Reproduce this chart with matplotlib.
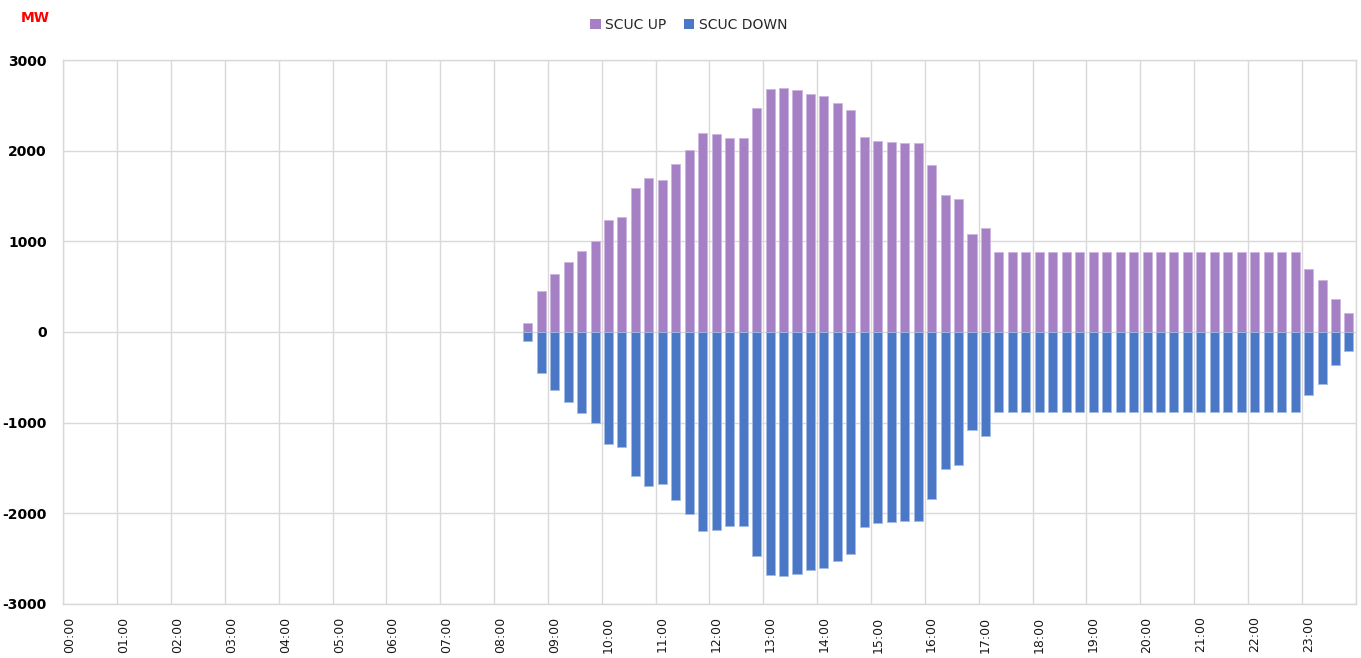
import matplotlib
matplotlib.use("Agg")
import matplotlib.pyplot as plt
from matplotlib.patches import Patch

# 15-minute slots over one day
times = [f"{h:02d}:{m:02d}" for h in range(24) for m in (0, 15, 30, 45)]

scuc_up = [
    0, 0, 0, 0, 0, 0, 0, 0, 0, 0, 0, 0, 0, 0, 0, 0,
    0, 0, 0, 0, 0, 0, 0, 0, 0, 0, 0, 0, 0, 0, 0, 0,
    0, 0, 100, 455, 640, 772, 893, 1005, 1230, 1267, 1590, 1696, 1677, 1853, 2004, 2195,
    2180, 2136, 2143, 2473, 2680, 2686, 2664, 2626, 2598, 2527, 2451, 2151, 2110, 2096, 2088, 2088,
    1843, 1510, 1468, 1077, 1145, 885, 885, 885, 885, 885, 885, 885, 885, 885, 885, 885,
    885, 885, 885, 885, 885, 885, 885, 885, 885, 885, 885, 885, 697, 572, 365, 208,
]
scuc_down = [
    0, 0, 0, 0, 0, 0, 0, 0, 0, 0, 0, 0, 0, 0, 0, 0,
    0, 0, 0, 0, 0, 0, 0, 0, 0, 0, 0, 0, 0, 0, 0, 0,
    0, 0, -100, -455, -640, -772, -893, -1005, -1230, -1267, -1590, -1696, -1677, -1853, -2004, -2195,
    -2180, -2136, -2143, -2473, -2680, -2686, -2664, -2626, -2598, -2527, -2451, -2151, -2110, -2096, -2088, -2088,
    -1843, -1510, -1468, -1077, -1145, -885, -885, -885, -885, -885, -885, -885, -885, -885, -885, -885,
    -885, -885, -885, -885, -885, -885, -885, -885, -885, -885, -885, -885, -697, -572, -365, -208,
]
y_ticks = [-3000, -2000, -1000, 0, 1000, 2000, 3000]

UP_COLOR = '#A680C4'
DOWN_COLOR = '#4A78C6'
GRID = '#D9D9D9'

fig = plt.figure(figsize=(13.61, 6.58), dpi=100)
ax = fig.add_axes([0.0465, 0.0821, 0.9496, 0.8267])

x = list(range(len(times)))
# no outline on empty slots, otherwise the edges draw a dashed line at zero
ax.bar(x, scuc_up, width=0.67, color=UP_COLOR, edgecolor='#CDB6E0',
       linewidth=[0.6 if v else 0 for v in scuc_up], zorder=3)
ax.bar(x, scuc_down, width=0.67, color=DOWN_COLOR, edgecolor='#A3BAE4',
       linewidth=[0.6 if v else 0 for v in scuc_down], zorder=3)

ax.set_xlim(-0.5, len(times) - 0.5)
ax.set_ylim(-3000, 3000)

# hour labels on category centres, grid on category boundaries
ax.set_xticks(x[::4])
ax.set_xticklabels(times[::4], rotation=90, fontsize=9, color='#1a1a1a')
ax.set_xticks([i - 0.5 for i in range(0, 97, 4)], minor=True)
ax.tick_params(axis='x', which='both', length=0, pad=9)
ax.grid(True, axis='x', which='minor', color=GRID, linewidth=1, zorder=0)

ax.set_yticks(y_ticks)
ax.set_yticklabels([str(v) for v in y_ticks], fontsize=10, fontweight='bold')
ax.tick_params(axis='y', length=0, pad=12)
ax.grid(True, axis='y', which='major', color=GRID, linewidth=1, zorder=0)

for spine in ax.spines.values():
    spine.set_color(GRID)
    spine.set_linewidth(1)

fig.text(0.026, 0.972, "MW", color='red', fontsize=10, fontweight='bold', ha='center', va='center')

handles = [Patch(facecolor=UP_COLOR, label='SCUC UP'), Patch(facecolor=DOWN_COLOR, label='SCUC DOWN')]
fig.legend(handles=handles, loc='center', bbox_to_anchor=(0.506, 0.962), ncol=2, frameon=False,
           fontsize=10, handlelength=0.75, handleheight=0.75, handletextpad=0.3, columnspacing=1.3,
           labelcolor='#262626')

fig.savefig("out.png", dpi=100)
